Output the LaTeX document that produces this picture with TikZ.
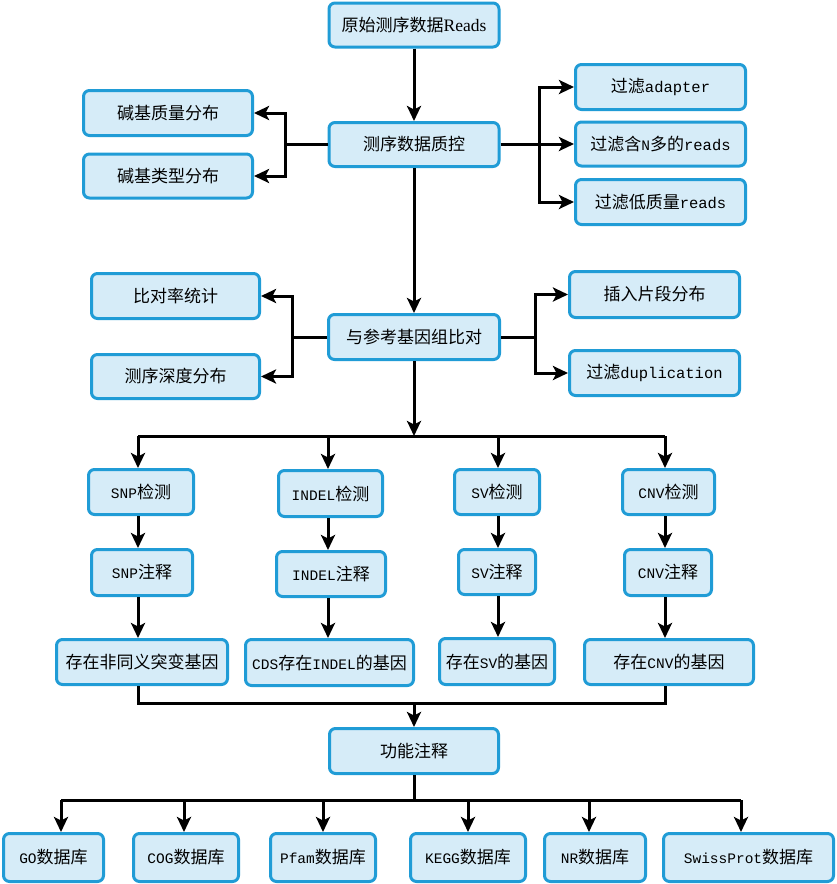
\documentclass[tikz,border=0pt]{standalone}
\usepackage{fontspec}
\usetikzlibrary{arrows.meta}
\newfontfamily\cjkfont{Noto Sans CJK SC}
\newfontfamily\monofont{Liberation Mono}
\newfontfamily\seriffont{Liberation Serif}
\newcommand\lat[1]{{\monofont\fontsize{15.5}{18}\selectfont #1}}
\newcommand\capw[1]{{\monofont\fontsize{14.5}{18}\selectfont #1}}
\newcommand\ser[1]{{\seriffont\fontsize{17.5}{19}\selectfont #1}}
\definecolor{boxborder}{RGB}{32,156,214}
\definecolor{boxfill}{RGB}{214,236,248}
\tikzset{
  box/.style={draw=boxborder, fill=boxfill, line width=3pt, rounded corners=6pt,
    inner sep=0pt, font=\cjkfont\fontsize{17}{20}\selectfont, text=black},
  wire/.style={line width=3pt, black},
  arr/.style={wire, -{Stealth[length=15pt,width=14pt,inset=3.5pt]}}
}
\newcommand\bx[6]{\node[box, minimum width=#4pt, minimum height=#5pt] (#1) at (#2,#3) {#6};}
\begin{document}
\begin{tikzpicture}[x=1pt,y=-1pt]
\useasboundingbox[fill=white] (0,0) rectangle (836,884);
% main column
\bx{raw}{414}{25}{170}{44}{原始测序数据\ser{Reads}}
\bx{qc}{414}{144.5}{170}{44}{测序数据质控}
\bx{bq}{168}{113}{169}{45}{碱基质量分布}
\bx{bt}{168}{176}{169}{44}{碱基类型分布}
\bx{fa}{660.5}{87}{170}{45}{过滤\lat{adapter}}
\bx{fn}{660.5}{144}{170}{44}{过滤含\capw{N}多的\lat{reads}}
\bx{fl}{660.5}{202}{170}{45}{过滤低质量\lat{reads}}
\bx{aln}{414}{337}{171}{45}{与参考基因组比对}
\bx{ar}{175.5}{296}{168}{45}{比对率统计}
\bx{dp}{175.5}{376.5}{168}{44}{测序深度分布}
\bx{ins}{654.5}{294.5}{170}{46}{插入片段分布}
\bx{dup}{654.5}{373}{170}{45}{过滤\lat{duplication}}
% four columns
\bx{snpd}{141}{492}{105}{45}{\capw{SNP}检测}
\bx{indd}{330.5}{493.5}{104}{46}{\capw{INDEL}检测}
\bx{svd}{497}{492}{85}{45}{\capw{SV}检测}
\bx{cnvd}{668.5}{492}{92}{45}{\capw{CNV}检测}
\bx{snpa}{142}{572.5}{101}{46}{\capw{SNP}注释}
\bx{inda}{331}{574}{109}{45}{\capw{INDEL}注释}
\bx{sva}{497}{572}{77}{45}{\capw{SV}注释}
\bx{cnva}{668}{572.5}{87}{46}{\capw{CNV}注释}
\bx{snpg}{142}{662}{171}{45}{存在非同义突变基因}
\bx{indg}{329.5}{662.5}{168}{46}{\capw{CDS}存在\capw{INDEL}的基因}
\bx{svg}{497}{661.5}{115}{46}{存在\capw{SV}的基因}
\bx{cnvg}{669}{662}{169}{45}{存在\capw{CNV}的基因}
\bx{func}{414}{751}{169}{45}{功能注释}
% databases
\bx{go}{53.5}{857.5}{100}{48}{\capw{GO}数据库}
\bx{cog}{186}{857.5}{105}{48}{\capw{COG}数据库}
\bx{pfam}{323}{857.5}{105}{48}{\capw{Pfam}数据库}
\bx{kegg}{468}{857.5}{115}{48}{\capw{KEGG}数据库}
\bx{nr}{595}{857.5}{101}{48}{\capw{NR}数据库}
\bx{sp}{748.5}{857.5}{170}{48}{\capw{SwissProt}数据库}
% coordinates
\coordinate (L1) at (285,144.5);
\coordinate (R1) at (539,144.5);
\coordinate (L2) at (292,337);
\coordinate (R2) at (535,337);
\coordinate (B1) at (414,436);
\coordinate (c1) at (138,436);
\coordinate (c2) at (328,436);
\coordinate (c3) at (498,436);
\coordinate (c4) at (665,436);
\coordinate (D1) at (138,703);
\coordinate (D4) at (665,703);
\coordinate (DM) at (414,703);
\coordinate (E0) at (414,800);
\coordinate (e1) at (61,800);
\coordinate (e2) at (184,800);
\coordinate (e3) at (323,800);
\coordinate (e4) at (468,800);
\coordinate (e5) at (589,800);
\coordinate (e6) at (741,800);
% top connectors
\draw[arr] (raw.south) -- (qc.north);
\draw[wire] (qc.west) -- (L1);
\draw[arr] (L1) |- (bq.east);
\draw[arr] (L1) |- (bt.east);
\draw[wire] (qc.east) -- (R1);
\draw[arr] (R1) |- (fa.west);
\draw[arr] (R1) |- (fn.west);
\draw[arr] (R1) |- (fl.west);
\draw[arr] (qc.south) -- (aln.north);
\draw[wire] (aln.west) -- (L2);
\draw[arr] (L2) |- (ar.east);
\draw[arr] (L2) |- (dp.east);
\draw[wire] (aln.east) -- (R2);
\draw[arr] (R2) |- (ins.west);
\draw[arr] (R2) |- (dup.west);
\draw[arr] (aln.south) -- (B1);
% bus to columns
\draw[wire] (c1) -- (c4);
\foreach \c/\a/\b/\g in {c1/snpd/snpa/snpg, c2/indd/inda/indg, c3/svd/sva/svg, c4/cnvd/cnva/cnvg}{
  \draw[arr] (\c) -- (\c |- \a.north);
  \draw[arr] (\c |- \a.south) -- (\c |- \b.north);
  \draw[arr] (\c |- \b.south) -- (\c |- \g.north);
}
% merge
\draw[wire] (c1 |- snpg.south) -- (D1) -- (D4) -- (c4 |- cnvg.south);
\draw[arr] (DM) -- (func.north);
% database bus
\draw[wire] (func.south) -- (E0);
\draw[wire] (e1) -- (e6);
\foreach \e/\n in {e1/go, e2/cog, e3/pfam, e4/kegg, e5/nr, e6/sp}{
  \draw[arr] (\e) -- (\e |- \n.north);
}
\end{tikzpicture}
\end{document}
